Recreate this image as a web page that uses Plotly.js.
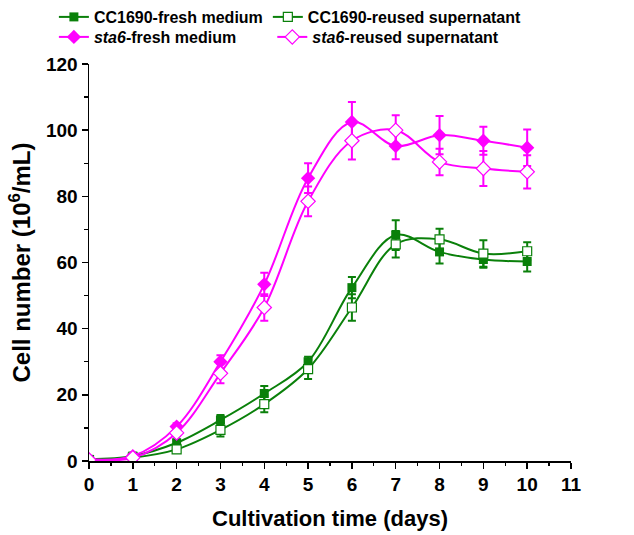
<!DOCTYPE html>
<html>
<head>
<meta charset="utf-8">
<script src="https://cdn.plot.ly/plotly-3.0.1.min.js"></script>
<style>html,body{margin:0;padding:0;background:#fff;}#chart{width:634px;height:535px;}</style>
</head>
<body>
<div id="chart"></div>
<script>
const days = [0,1,2,3,4,5,6,7,8,9,10];

const ccFresh    = [0.5, 1.5, 5.5, 12.4, 20.4, 30.0, 52.4, 68.3, 63.2, 60.9, 60.3];
const ccFreshErr = [0.3, 0.5, 1.0, 1.5, 2.3, 1.5, 3.2, 4.5, 3.5, 2.5, 3.0];
const ccReused    = [0.3, 1.0, 3.5, 9.4, 17.2, 27.8, 46.4, 65.5, 67.0, 62.7, 63.4];
const ccReusedErr = [0.3, 0.5, 1.0, 2.0, 2.5, 3.0, 4.0, 4.0, 3.2, 4.0, 2.7];

const stFresh    = [0.5, 1.5, 10.4, 30.0, 53.4, 85.5, 102.5, 95.2, 98.5, 96.8, 94.7];
const stFreshErr = [0.3, 0.5, 1.0, 2.0, 3.5, 4.5, 6.0, 4.0, 5.8, 4.2, 5.5];
const stReused    = [0.3, 1.0, 8.5, 26.5, 46.4, 78.5, 96.8, 100.0, 90.4, 88.4, 87.4];
const stReusedErr = [0.3, 0.5, 1.0, 3.0, 4.0, 4.5, 5.7, 4.5, 4.0, 5.3, 5.0];

const NB = '\u00a0';
const names = ['<b>CC1690-fresh medium</b>', '<b>CC1690-reused supernatant</b>',
               '<b><i>sta6</i>-fresh medium</b>' + NB.repeat(7), '<b><i>sta6</i>-reused supernatant</b>'];

const GREEN = '#0a800a';
const MAG = '#ff00ff';

function tr(y, err, name, color, symbol, open, size, leg) {
  return {
    x: days, y: y, name: name, type: 'scatter', mode: 'lines+markers', legend: leg,
    line: {color: color, width: 2, shape: 'spline', smoothing: 1.0},
    marker: {symbol: symbol, size: size, color: open ? '#ffffff' : color,
             line: {color: color, width: open ? 1.2 : 0}},
    error_y: {type: 'data', array: err, visible: true, color: color, thickness: 2, width: 4}
  };
}

const data = [
  tr(ccFresh, ccFreshErr, names[0], GREEN, 'square', false, 9, 'legend'),
  tr(ccReused, ccReusedErr, names[1], GREEN, 'square', true, 9, 'legend'),
  tr(stFresh, stFreshErr, names[2], MAG, 'diamond', false, 11, 'legend2'),
  tr(stReused, stReusedErr, names[3], MAG, 'diamond', true, 11, 'legend2')
];

const FONT = 'Arial, "Liberation Sans", sans-serif';

function legendCfg(ypos) {
  return {
    orientation: 'h', xref: 'container', yref: 'container',
    x: 0.085, y: ypos, xanchor: 'left', yanchor: 'top',
    font: {family: FONT, size: 16, color: '#000'},
    traceorder: 'normal', bgcolor: 'rgba(0,0,0,0)', tracegroupgap: 0,
    itemwidth: 30
  };
}

const layout = {
  width: 634, height: 535,
  margin: {l: 89, r: 63, t: 64, b: 74},
  paper_bgcolor: '#fff', plot_bgcolor: '#fff',
  font: {family: FONT, color: '#000'},
  showlegend: true,
  legend: legendCfg(1),
  legend2: legendCfg(0.9626),
  xaxis: {
    range: [0, 11], dtick: 1, tick0: 0,
    showgrid: false, zeroline: false,
    showline: true, linecolor: '#000', linewidth: 1.5,
    ticks: 'outside', ticklen: 6, tickwidth: 1.5, tickcolor: '#000',
    minor: {dtick: 0.5, ticklen: 3.5, tickwidth: 1.2, tickcolor: '#000', ticks: 'outside', showgrid: false},
    tickfont: {family: FONT, size: 19, color: '#000', weight: 'bold'},
    title: {text: '<b>Cultivation time (days)</b>', font: {family: FONT, size: 22, color: '#000'}, standoff: 16}
  },
  yaxis: {
    range: [0, 120], dtick: 20, tick0: 0,
    showgrid: false, zeroline: false,
    showline: true, linecolor: '#000', linewidth: 1.5,
    ticks: 'outside', ticklen: 6, tickwidth: 1.5, tickcolor: '#000',
    minor: {dtick: 10, ticklen: 3.5, tickwidth: 1.2, tickcolor: '#000', ticks: 'outside', showgrid: false},
    tickfont: {family: FONT, size: 19, color: '#000', weight: 'bold'},
    title: {text: '<b>Cell number (10<sup>6</sup>/mL)</b>', font: {family: FONT, size: 24, color: '#000'}, standoff: 8}
  }
};

Plotly.newPlot('chart', data, layout, {displayModeBar: false, staticPlot: true});
</script>
</body>
</html>
